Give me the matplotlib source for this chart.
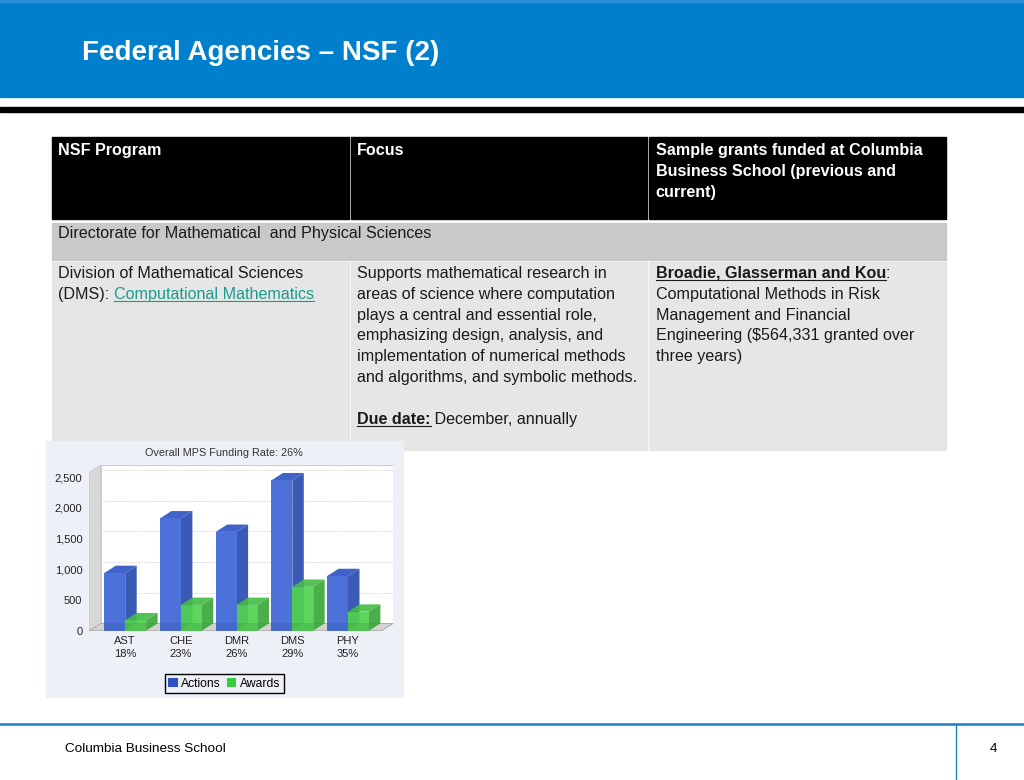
import matplotlib
matplotlib.use('Agg')
import matplotlib.pyplot as plt
from matplotlib.patches import Rectangle, Polygon, Patch

FONT = 'Liberation Sans'
plt.rcParams['font.family'] = [FONT, 'DejaVu Sans']

# ---- chart data ----
categories = ['AST', 'CHE', 'DMR', 'DMS', 'PHY']
funding_rates = ['18%', '23%', '26%', '29%', '35%']
actions = [940, 1830, 1610, 2450, 890]
awards = [170, 420, 420, 715, 310]
series_names = ['Actions', 'Awards']
chart_title = 'Overall MPS Funding Rate: 26%'
y_ticks = [0, 500, 1000, 1500, 2000, 2500]

# ---- slide text ----
slide_title = 'Federal Agencies \u2013 NSF (2)'
footer_left = 'Columbia Business School'
page_number = '4'
header_cells = [
    ['NSF Program'],
    ['Focus'],
    ['Sample grants funded at Columbia', 'Business School (previous and', 'current)'],
]
section_row = 'Directorate for Mathematical  and Physical Sciences'
# each line is a list of (text, style) runs; style: n normal, bu bold+underline, link
program_lines = [
    [('Division of Mathematical Sciences', 'n')],
    [('(DMS): ', 'n'), ('Computational Mathematics', 'link')],
]
focus_lines = [
    [('Supports mathematical research in', 'n')],
    [('areas of science where computation', 'n')],
    [('plays a central and essential role,', 'n')],
    [('emphasizing design, analysis, and', 'n')],
    [('implementation of numerical methods', 'n')],
    [('and algorithms, and symbolic methods.', 'n')],
    [],
    [('Due date:', 'bu'), (' December, annually', 'n')],
]
grant_lines = [
    [('Broadie, Glasserman and Kou', 'bu'), (':', 'n')],
    [('Computational Methods in Risk', 'n')],
    [('Management and Financial', 'n')],
    [('Engineering ($564,331 granted over', 'n')],
    [('three years)', 'n')],
]

BLUE_BAND = '#0080cc'
TEXT = '#1a1a1a'
LINK = '#1a9c8c'
CHART_BG = '#edf1f7'

fig = plt.figure(figsize=(10.24, 7.8), dpi=100)
base = fig.add_axes([0, 0, 1, 1])
base.set_xlim(0, 1024)
base.set_ylim(780, 0)
base.axis('off')
renderer = fig.canvas.get_renderer()


def text_width(s, size, weight):
    probe = base.text(0, 0, s + '|', fontsize=size, fontweight=weight)
    bar = base.text(0, 0, '|', fontsize=size, fontweight=weight)
    w = probe.get_window_extent(renderer).width - bar.get_window_extent(renderer).width
    probe.remove()
    bar.remove()
    return w


def draw_runs(x, y, runs, size=11.6, color=TEXT):
    for txt, style in runs:
        weight = 'bold' if 'b' in style else 'normal'
        c = LINK if style == 'link' else color
        base.text(x, y, txt, fontsize=size, fontweight=weight, color=c,
                  ha='left', va='baseline', zorder=3)
        w = text_width(txt, size, weight)
        if 'u' in style or style == 'link':
            base.plot([x, x + w], [y + 2.2, y + 2.2], color=c, lw=0.8, zorder=3)
        x += w


# header band and rule
base.add_patch(Rectangle((0, 0), 1024, 96.5, color=BLUE_BAND, zorder=1))
base.add_patch(Rectangle((0, 0), 1024, 2, color='#2a8fd6', zorder=1))
base.add_patch(Rectangle((0, 106.5), 1024, 5.5, color='black', zorder=1))
base.text(82, 53, slide_title, fontsize=20, fontweight='bold', color='white',
          ha='left', va='center', zorder=2)

# table
col_x = [(51.7, 348.7), (350.7, 647.3), (649, 946)]
text_x = [58.5, 357, 655.7]
for (x0, x1) in col_x:
    base.add_patch(Rectangle((x0, 137.3), x1 - x0, 81.7, color='black', zorder=1))
    base.add_patch(Rectangle((x0, 261.5), x1 - x0, 188, color='#e6e6e6', zorder=1))
base.add_patch(Rectangle((51.7, 223), 946 - 51.7, 37.3, color='#c9c9c9', zorder=1))

for tx, lines in zip(text_x, header_cells):
    for k, line in enumerate(lines):
        base.text(tx, 155 + 21 * k, line, fontsize=11.6, fontweight='bold',
                  color='white', ha='left', va='baseline', zorder=3)
base.text(text_x[0], 238.3, section_row, fontsize=11.6, color=TEXT,
          ha='left', va='baseline', zorder=3)
for tx, lines in zip(text_x, [program_lines, focus_lines, grant_lines]):
    for k, line in enumerate(lines):
        draw_runs(tx, 278 + 20.8 * k, line)

# footer
base.plot([0, 1024], [724, 724], color='#1f80c8', lw=1.8, zorder=2)
base.plot([956, 956], [724, 780], color='#1f80c8', lw=1.0, zorder=2)
base.text(65, 749.5, footer_left, fontsize=9.7, color='black', ha='left', va='center')
base.text(993, 749.5, page_number, fontsize=9.7, color='black', ha='center', va='center')

# chart image area
base.add_patch(Rectangle((46, 441), 357, 256, color=CHART_BG, zorder=5))
base.text(224.3, 453.3, chart_title, fontsize=7.8, color='#333333',
          ha='center', va='center', zorder=6)

# 3D-looking bar chart
ax = fig.add_axes([89.3 / 1024, 1 - 630.7 / 780, 304 / 1024, 165.7 / 780])
ax.set_facecolor('none')
xl, xr = -0.645, 4.607
dx, dy = 0.206, 119
ytop = 2699
ax.set_xlim(xl, xr + dx)
ax.set_ylim(0, ytop)
for s in ax.spines.values():
    s.set_visible(False)

ax.add_patch(Rectangle((xl + dx, dy), xr - xl, ytop - dy, facecolor='white',
                       edgecolor='#c4c4c4', lw=0.6, zorder=1))
ax.add_patch(Polygon([(xl, 0), (xl + dx, dy), (xl + dx, ytop), (xl, ytop - dy)],
                     closed=True, facecolor='#d8d8d8', edgecolor='#c4c4c4', lw=0.5, zorder=1))
ax.add_patch(Polygon([(xl, 0), (xr, 0), (xr + dx, dy), (xl + dx, dy)],
                     closed=True, facecolor='#d2d2d2', edgecolor='#a8a8a8', lw=0.6, zorder=1))
for v in y_ticks[1:]:
    ax.plot([xl + dx, xr + dx], [v + dy, v + dy], color='#cfcfcf', lw=0.6,
            ls=(0, (1.5, 1.5)), zorder=1.5)

w = 0.375
series = [
    (actions, -w, ('#4c72d9', '#3a5ab6', '#4163c9'), 1.0, 3),
    (awards, 0.0, ('#50d250', '#3aa83a', '#45bd45'), 0.92, 4),
]
for values, off, (front, side, top), alpha, z in series:
    for i, v in enumerate(values):
        x0 = i + off
        x1 = x0 + w
        ax.add_patch(Polygon([(x1, 0), (x1 + dx, dy), (x1 + dx, v + dy), (x1, v)],
                             closed=True, facecolor=side, edgecolor='none', alpha=alpha, zorder=z))
        ax.add_patch(Polygon([(x0, v), (x0 + dx, v + dy), (x1 + dx, v + dy), (x1, v)],
                             closed=True, facecolor=top, edgecolor='none', alpha=alpha, zorder=z))
    ax.bar([i + off for i in range(len(values))], values, w, align='edge',
           color=front, alpha=alpha, zorder=z + 0.1)
    # floor seen through the bar bottoms
    ax.bar([i + off for i in range(len(values))], [dy] * len(values), w, align='edge',
           color='#1a2a66' if z == 3 else '#1a5a1a', alpha=0.12, zorder=z + 0.2)

ax.set_yticks(y_ticks)
ax.set_yticklabels(['{:,}'.format(v) for v in y_ticks])
ax.set_xticks(range(len(categories)))
ax.set_xticklabels([c + '\n' + r for c, r in zip(categories, funding_rates)])
ax.tick_params(axis='both', length=0, labelsize=8, labelcolor='#222222')
ax.tick_params(axis='y', pad=5)
ax.tick_params(axis='x', pad=4)
for lab in ax.get_xticklabels():
    lab.set_linespacing(1.35)

handles = [Patch(facecolor='#2f50c4', edgecolor='none', label=series_names[0]),
           Patch(facecolor='#38cc38', edgecolor='none', label=series_names[1])]
leg = ax.legend(handles=handles, loc='center', ncol=2,
                bbox_to_anchor=(224.3 / 1024, 1 - 683.7 / 780),
                bbox_transform=fig.transFigure, frameon=True, fancybox=False,
                edgecolor='black', facecolor=CHART_BG, framealpha=1,
                fontsize=8.7, handlelength=0.8, handleheight=0.8,
                handletextpad=0.3, columnspacing=0.45, borderpad=0.3,
                borderaxespad=0)
leg.get_frame().set_linewidth(1.0)

fig.savefig('out.png', dpi=100)
